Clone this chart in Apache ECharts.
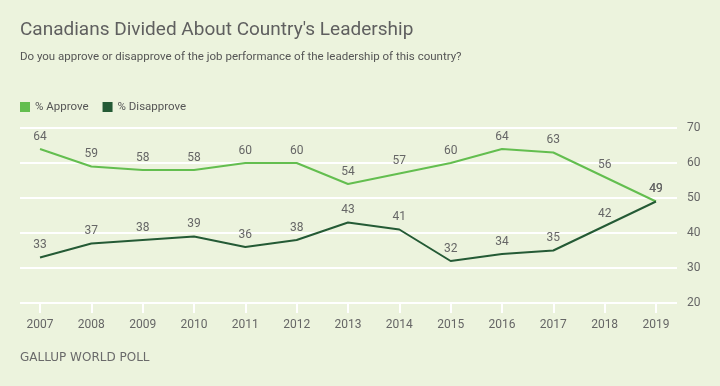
<!DOCTYPE html>
<html><head><meta charset="utf-8">
<script src="https://cdn.jsdelivr.net/npm/echarts@6/dist/echarts.min.js"></script>
<style>html,body{margin:0;padding:0;background:#ecf3dd;}#c{width:720px;height:386px;}</style>
</head><body><div id="c"></div>
<script>
const years = [2007,2008,2009,2010,2011,2012,2013,2014,2015,2016,2017,2018,2019];
const approve = [64,59,58,58,60,60,54,57,60,64,63,56,49];
const disapprove = [33,37,38,39,36,38,43,41,32,34,35,42,49];
const yTicks = [20,30,40,50,60,70];

const chart = echarts.init(document.getElementById('c'));
const font = 'Roboto, "Open Sans", sans-serif';
const lbl = {show: true, position: 'top', distance: 6, color: '#666', fontSize: 12, fontFamily: font};
chart.setOption({
  backgroundColor: '#ecf3dd',
  animation: false,
  textStyle: {fontFamily: font},
  title: [
    {text: "Canadians Divided About Country's Leadership", left: 15, top: 16,
     textStyle: {fontSize: 19, fontWeight: 'normal', color: '#5f5f5f', fontFamily: font}},
    {text: 'Do you approve or disapprove of the job performance of the leadership of this country?', left: 15, top: 46,
     textStyle: {fontSize: 11.5, fontWeight: 'normal', color: '#555', fontFamily: font}},
    {text: 'GALLUP WORLD POLL', left: 15, top: 347,
     textStyle: {fontSize: 12, fontWeight: 'normal', color: '#6a6a6a', fontFamily: '"DejaVu Sans", sans-serif'}}
  ],
  legend: {
    left: 15, top: 96, itemWidth: 10, itemHeight: 10, itemGap: 14, icon: 'rect',
    textStyle: {fontSize: 11.5, color: '#555', fontFamily: font},
    data: [{name: '% Approve', itemStyle: {color: '#63be4f', opacity: 1}},
           {name: '% Disapprove', itemStyle: {color: '#245a35', opacity: 1}}]
  },
  grid: {left: 20, right: 43, top: 128, bottom: 83, containLabel: false},
  xAxis: {
    type: 'value', min: 2006.61, max: 2019.41,
    axisLine: {show: false}, splitLine: {show: false},
    axisTick: {show: true, customValues: years, length: 10, lineStyle: {color: '#fff', width: 2}},
    axisLabel: {customValues: years, color: '#666', fontSize: 12, margin: 16, fontFamily: font,
      formatter: v => String(v)}
  },
  yAxis: {
    type: 'value', position: 'right', min: 20, max: 70, interval: 10,
    axisLine: {show: false}, axisTick: {show: false},
    axisLabel: {color: '#666', fontSize: 12, margin: 10, fontFamily: font, align: 'left'},
    splitLine: {lineStyle: {color: '#fff', width: 2}}
  },
  series: [
    {name: '% Approve', type: 'line', data: years.map((y,i)=>[y, approve[i]]),
     symbol: 'circle', symbolSize: 0.01, showSymbol: true, itemStyle: {color: '#63be4f'},
     color: '#63be4f', lineStyle: {width: 2, color: '#63be4f'}, label: lbl},
    {name: '% Disapprove', type: 'line', data: years.map((y,i)=>[y, disapprove[i]]),
     symbol: 'circle', symbolSize: 0.01, showSymbol: true, itemStyle: {color: '#245a35'},
     color: '#245a35', lineStyle: {width: 2, color: '#245a35'}, label: lbl}
  ]
});
</script></body></html>
